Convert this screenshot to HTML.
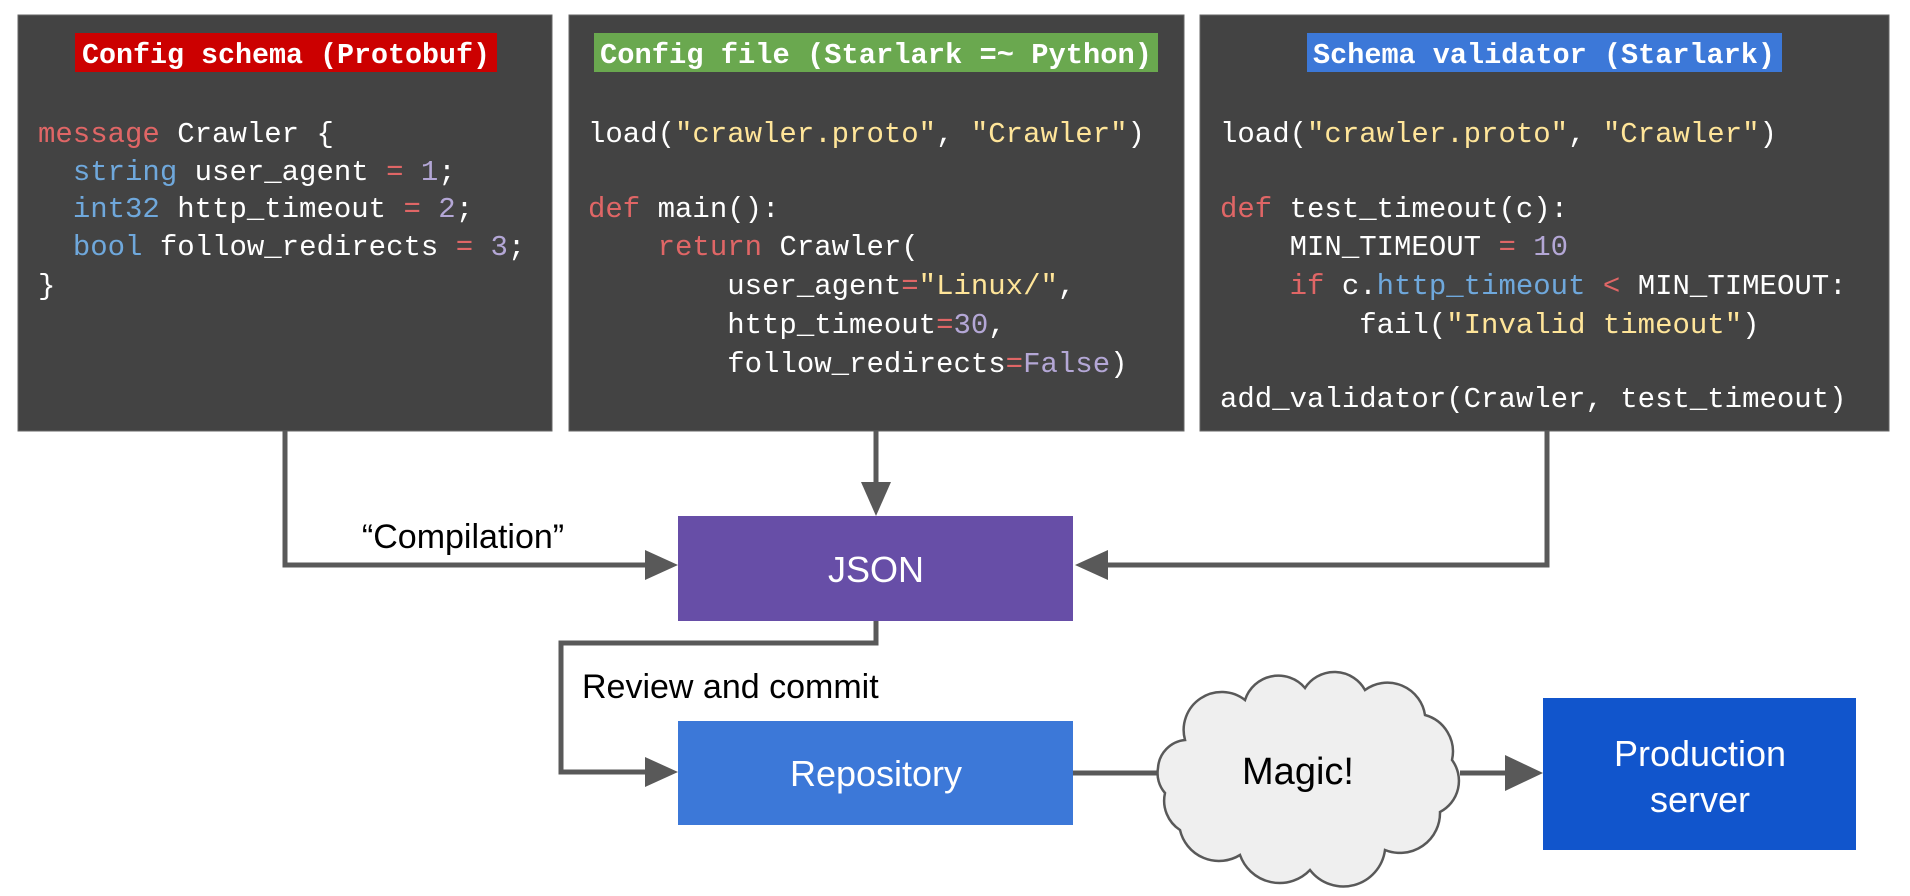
<!DOCTYPE html>
<html><head><meta charset="utf-8"><style>
html,body{margin:0;padding:0;background:#fff;}
svg{display:block}
text,tspan{white-space:pre}
.c{font-family:"Liberation Mono",monospace;font-size:29px;fill:#fff}
.t{font-family:"Liberation Mono",monospace;font-size:29px;font-weight:bold;fill:#fff}
.s{font-family:"Liberation Sans",Arial,sans-serif}
</style></head><body>
<svg width="1910" height="896" viewBox="0 0 1910 896" xmlns="http://www.w3.org/2000/svg" xml:space="preserve">
<rect x="18" y="15" width="534" height="416" fill="#434343" stroke="#666" stroke-width="1"/>
<rect x="569" y="15" width="615" height="416" fill="#434343" stroke="#666" stroke-width="1"/>
<rect x="1200" y="15" width="689" height="416" fill="#434343" stroke="#666" stroke-width="1"/>

<rect x="75" y="33" width="422" height="39" fill="#cc0000"/>
<rect x="594" y="33" width="564" height="39" fill="#6aa84f"/>
<rect x="1307" y="33" width="475" height="39" fill="#3c78d8"/>
<text class="t" x="286" y="63" text-anchor="middle" textLength="408" lengthAdjust="spacingAndGlyphs">Config schema (Protobuf)</text>
<text class="t" x="876" y="63" text-anchor="middle" textLength="552" lengthAdjust="spacingAndGlyphs">Config file (Starlark =~ Python)</text>
<text class="t" x="1544" y="63" text-anchor="middle" textLength="462" lengthAdjust="spacingAndGlyphs">Schema validator (Starlark)</text>

<g class="c">
<text x="38" y="142"><tspan fill="#e06666">message</tspan> Crawler {</text>
<text x="38" y="180">  <tspan fill="#6fa8dc">string</tspan> user_agent <tspan fill="#e06666">=</tspan> <tspan fill="#b4a7d6">1</tspan>;</text>
<text x="38" y="217">  <tspan fill="#6fa8dc">int32</tspan> http_timeout <tspan fill="#e06666">=</tspan> <tspan fill="#b4a7d6">2</tspan>;</text>
<text x="38" y="255">  <tspan fill="#6fa8dc">bool</tspan> follow_redirects <tspan fill="#e06666">=</tspan> <tspan fill="#b4a7d6">3</tspan>;</text>
<text x="38" y="294">}</text>

<text x="588" y="142">load(<tspan fill="#ffe599">"crawler.proto"</tspan>, <tspan fill="#ffe599">"Crawler"</tspan>)</text>
<text x="588" y="217"><tspan fill="#e06666">def</tspan> main():</text>
<text x="588" y="255">    <tspan fill="#e06666">return</tspan> Crawler(</text>
<text x="588" y="294">        user_agent<tspan fill="#e06666">=</tspan><tspan fill="#ffe599">"Linux/"</tspan>,</text>
<text x="588" y="333">        http_timeout<tspan fill="#e06666">=</tspan><tspan fill="#b4a7d6">30</tspan>,</text>
<text x="588" y="372">        follow_redirects<tspan fill="#e06666">=</tspan><tspan fill="#b4a7d6">False</tspan>)</text>

<text x="1220" y="142">load(<tspan fill="#ffe599">"crawler.proto"</tspan>, <tspan fill="#ffe599">"Crawler"</tspan>)</text>
<text x="1220" y="217"><tspan fill="#e06666">def</tspan> test_timeout(c):</text>
<text x="1220" y="255">    MIN_TIMEOUT <tspan fill="#e06666">=</tspan> <tspan fill="#b4a7d6">10</tspan></text>
<text x="1220" y="294">    <tspan fill="#e06666">if</tspan> c.<tspan fill="#6fa8dc">http_timeout</tspan> <tspan fill="#e06666">&lt;</tspan> MIN_TIMEOUT:</text>
<text x="1220" y="333">        fail(<tspan fill="#ffe599">"Invalid timeout"</tspan>)</text>
<text x="1220" y="407">add_validator(Crawler, test_timeout)</text>
</g>

<g stroke="#595959" stroke-width="5" fill="none">
<polyline points="285,431 285,565 650,565"/>
<polyline points="876,431 876,490"/>
<polyline points="1547,431 1547,565 1102,565"/>
<polyline points="876,621 876,643 561,643 561,772 650,772"/>
<line x1="1073" y1="773" x2="1160" y2="773"/>
<line x1="1460" y1="773" x2="1515" y2="773"/>
</g>
<g fill="#595959">
<polygon points="678,565 645,550 645,580"/>
<polygon points="876,516 861,482 891,482"/>
<polygon points="1075,565 1108,550 1108,580"/>
<polygon points="678,772 645,757 645,787"/>
<polygon points="1543,773 1505,755 1505,791"/>
</g>

<rect x="678" y="516" width="395" height="105" fill="#674ea7"/>
<rect x="678" y="721" width="395" height="104" fill="#3c78d8"/>
<rect x="1543" y="698" width="313" height="152" fill="#1155cc"/>

<path d="M1185,740 A38,38 0 0 1 1245,700 A35,35 0 0 1 1305,688 A35,35 0 0 1 1365,690 A38,38 0 0 1 1425,715 A38,38 0 0 1 1452,760 A35,35 0 0 1 1440,812 A40,40 0 0 1 1385,850 A42,42 0 0 1 1310,870 A42,42 0 0 1 1240,855 A40,40 0 0 1 1180,830 A35,35 0 0 1 1165,793 A30,30 0 0 1 1158,768 A30,30 0 0 1 1185,740 Z" fill="#efefef" stroke="#595959" stroke-width="2.5"/>

<g class="s" fill="#000">
<text x="463" y="548" font-size="34" text-anchor="middle">“Compilation”</text>
<text x="582" y="698" font-size="34">Review and commit</text>
<text x="1298" y="784" font-size="38" text-anchor="middle">Magic!</text>
</g>
<g class="s" fill="#fff" text-anchor="middle" font-size="36">
<text x="876" y="582">JSON</text>
<text x="876" y="786">Repository</text>
<text x="1700" y="766">Production</text>
<text x="1700" y="812">server</text>
</g>
</svg>
</body></html>
